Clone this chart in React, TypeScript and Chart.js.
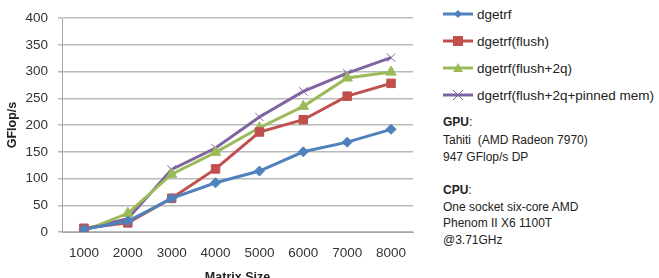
import React, { useEffect, useRef } from "react";
import { Chart, registerables } from "chart.js";

Chart.register(...registerables);

const categories = ["1000", "2000", "3000", "4000", "5000", "6000", "7000", "8000"];
const dgetrf = [5, 20, 63, 92, 114, 150, 168, 192];
const dgetrfFlush = [7, 17, 63, 118, 187, 210, 254, 278];
const dgetrfFlush2q = [2, 35, 108, 149, 195, 235, 288, 299];
const dgetrfPinned = [5, 25, 117, 157, 215, 263, 297, 326];
const yTicks = [0, 50, 100, 150, 200, 250, 300, 350, 400];

const seriesNames = ["dgetrf", "dgetrf(flush)", "dgetrf(flush+2q)", "dgetrf(flush+2q+pinned mem)"];
const colors = ["#4F81BD", "#C0504D", "#9BBB59", "#8064A2"];

const FONT = "'Liberation Sans', Arial, sans-serif";

function LegendIcon({ idx }: { idx: number }) {
  const c = colors[idx];
  let marker: React.ReactNode = null;
  if (idx === 0) marker = <polygon points="15,1 19,5 15,9 11,5" fill={c} />;
  if (idx === 1) marker = <rect x={10} y={0} width={10} height={10} fill={c} />;
  if (idx === 2) marker = <polygon points="15,0 20,9 10,9" fill={c} />;
  if (idx === 3)
    marker = (
      <g stroke={c} strokeWidth={1}>
        <line x1={10} y1={0} x2={20} y2={10} />
        <line x1={20} y1={0} x2={10} y2={10} />
      </g>
    );
  return (
    <svg width={30} height={10} style={{ display: "block" }}>
      <line x1={0} y1={5} x2={30} y2={5} stroke={c} strokeWidth={3} />
      {marker}
    </svg>
  );
}

export default function App() {
  const ref = useRef<HTMLCanvasElement | null>(null);

  useEffect(() => {
    if (!ref.current) return;
    const data = [dgetrf, dgetrfFlush, dgetrfFlush2q, dgetrfPinned];
    const styles: any[] = [
      { pointStyle: "rectRot", pointRadius: 5 },
      { pointStyle: "rect", pointRadius: 6 },
      { pointStyle: "triangle", pointRadius: 6 },
      { pointStyle: "crossRot", pointRadius: 6, pointBorderWidth: 1 },
    ];
    const chart = new Chart(ref.current, {
      type: "line",
      data: {
        labels: categories,
        datasets: data.map((d, i) => ({
          label: seriesNames[i],
          data: d,
          borderColor: colors[i],
          backgroundColor: colors[i],
          pointBackgroundColor: colors[i],
          pointBorderColor: colors[i],
          borderWidth: 3,
          tension: 0,
          pointBorderWidth: 1,
          ...styles[i],
        })),
      },
      options: {
        animation: false,
        responsive: false,
        maintainAspectRatio: false,
        layout: { padding: { top: 15, right: 7, left: 0, bottom: 0 } },
        plugins: { legend: { display: false }, tooltip: { enabled: false } },
        scales: {
          x: {
            type: "category",
            offset: true,
            grid: { display: false },
            border: { display: true, color: "#a6a6a6", width: 1 },
            ticks: { color: "#333", font: { family: FONT, size: 13.5 }, padding: 5 },
            title: {
              display: true,
              text: "Matrix Size",
              color: "#222",
              font: { family: FONT, size: 12.5, weight: "bold" },
              padding: { top: 4, bottom: -7 },
            },
            afterFit: (s: any) => {
              s.height = 46;
            },
          },
          y: {
            min: 0,
            max: 400,
            afterBuildTicks: (s: any) => {
              s.ticks = yTicks.map((v) => ({ value: v }));
            },
            grid: { color: "#b9b9b9", lineWidth: 1.5, tickLength: 4, drawTicks: true },
            border: { display: true, color: "#a6a6a6", width: 1 },
            ticks: { color: "#333", font: { family: FONT, size: 13.5 }, padding: 10 },
            title: {
              display: true,
              text: "GFlop/s",
              color: "#222",
              font: { family: FONT, size: 12.5, weight: "bold" },
              padding: { top: 5, bottom: 4 },
            },
            afterFit: (s: any) => {
              s.width = 62;
            },
          },
        },
      },
    });
    return () => chart.destroy();
  }, []);

  const legendY = [14, 41, 68, 95];
  const textLines: { y: number; bold?: string; text: string }[] = [
    { y: 122, bold: "GPU", text: ":" },
    { y: 140, text: "Tahiti\u00a0\u00a0(AMD Radeon 7970)" },
    { y: 157, text: "947 GFlop/s DP" },
    { y: 190, bold: "CPU", text: ":" },
    { y: 207, text: "One socket six-core AMD" },
    { y: 223, text: "Phenom II X6 1100T" },
    { y: 240, text: "@3.71GHz" },
  ];

  return (
    <div
      style={{
        position: "fixed",
        left: 0,
        top: 0,
        width: 659,
        height: 278,
        background: "#fff",
        overflow: "hidden",
        fontFamily: FONT,
      }}
    >
      <canvas ref={ref} width={420} height={278} style={{ position: "absolute", left: 0, top: 0, width: 420, height: 278 }} />
      {seriesNames.map((n, i) => (
        <div
          key={n}
          style={{
            position: "absolute",
            left: 443,
            top: legendY[i] - 9,
            height: 18,
            display: "flex",
            alignItems: "center",
            whiteSpace: "nowrap",
            fontSize: 13.5,
            color: "#222",
          }}
        >
          <LegendIcon idx={i} />
          <span style={{ marginLeft: 4 }}>{n}</span>
        </div>
      ))}
      {textLines.map((l, i) => (
        <div
          key={i}
          style={{
            position: "absolute",
            left: 443,
            top: l.y - 9,
            height: 18,
            lineHeight: "18px",
            fontSize: 12,
            color: "#222",
            whiteSpace: "nowrap",
          }}
        >
          {l.bold ? <b>{l.bold}</b> : null}
          {l.text}
        </div>
      ))}
    </div>
  );
}
